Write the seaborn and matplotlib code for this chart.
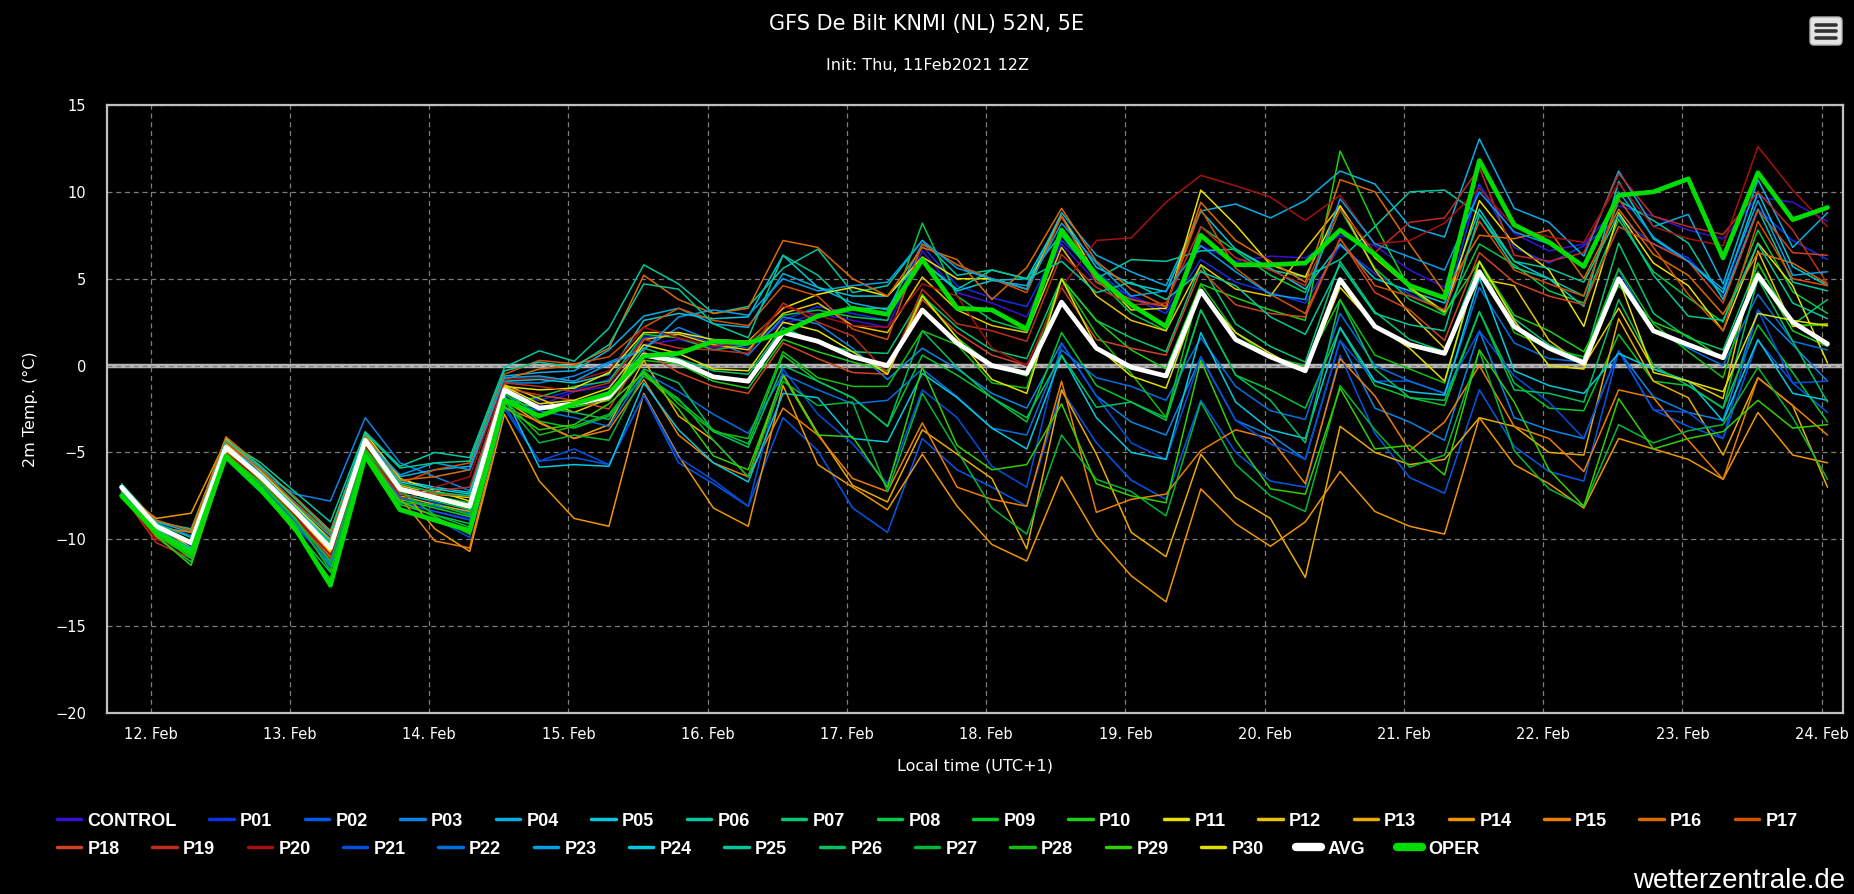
import matplotlib
matplotlib.use("Agg")
import matplotlib.pyplot as plt
import matplotlib.dates as mdates
from matplotlib import font_manager
from matplotlib.lines import Line2D
from matplotlib.patches import FancyBboxPatch
import pandas as pd
import seaborn as sns

# 6-hourly steps, local time (UTC+1)
times = pd.date_range("2021-02-11 19:00", periods=50, freq="6h")

control = [-7.2, -9.5, -10.6, -5.0, -6.9, -9.0, -11.6, -4.9, -7.8, -8.4, -8.8, -1.8, -2.3,
           -1.5, -1.2, 1.2, 1.5, 1.0, 1.2, 2.4, 3.0, 2.6, 2.2, 6.6, 4.2, 3.6, 2.8, 7.0, 4.8,
           4.0, 3.2, 6.9, 6.0, 6.3, 6.2, 7.5, 6.9, 5.5, 4.5, 10.4, 7.6, 6.6, 7.0, 9.2, 8.6,
           7.8, 7.3, 9.7, 9.4, 8.3]
p01 = [-7.0, -9.3, -10.4, -4.8, -6.6, -8.7, -10.9, -4.5, -7.3, -7.9, -8.5, -1.6, -2.0,
       -1.4, -0.8, 1.6, 1.9, 1.3, 1.0, 2.6, 3.4, 3.0, 2.6, 6.9, 4.6, 3.9, 3.4, 7.2, 5.4,
       3.9, 3.0, 6.1, 4.8, 4.2, 3.6, 6.9, 5.3, 4.1, 3.2, 10.45, 6.8, 5.9, 6.9, 8.5, 7.0,
       6.2, 4.0, 9.0, 7.2, 6.1]
p02 = [-7.3, -9.8, -11.0, -5.3, -7.0, -9.2, -11.4, -4.9, -7.9, -8.4, -8.9, -2.3, -5.5,
       -5.3, -5.7, -1.7, -5.6, -6.8, -8.1, -3.0, -4.9, -8.2, -9.6, -4.2, -6.0, -7.0, -8.1, -1.4, -4.45,
       -6.6, -7.7, -2.0, -5.0, -6.65, -7.0, 0.6, -3.9, -6.45, -7.35, -1.4, -4.65, -6.1, -6.65, 0.85, -2.55,
       -3.5, -4.2, 1.45, -1.0, -2.7]
p03 = [-6.9, -9.1, -9.8, -4.5, -6.2, -7.4, -7.8, -3.0, -5.6, -6.4, -7.2, -1.0, -1.0,
       -0.6, 0.2, 1.0, 2.2, 1.4, 0.6, 2.8, 2.4, 1.0, -0.8, 1.0, -0.2, -1.6, -2.45, 1.3, -1.75,
       -3.25, -4.0, 0.5, -3.15, -4.0, -5.4, 1.45, -2.45, -3.25, -4.3, 2.0, -3.0, -3.7, -4.2, 0.85, -1.8,
       -2.7, -3.15, 3.2, 1.2, -0.9]
p04 = [-6.9, -9.0, -9.6, -4.4, -5.9, -8.0, -9.8, -4.0, -6.4, -6.0, -5.8, -0.6, -0.4,
       -0.3, 0.9, 2.85, 3.3, 2.4, 2.2, 5.3, 4.5, 3.6, 3.2, 7.0, 5.8, 4.9, 4.6, 8.8, 6.35,
       5.4, 4.6, 8.9, 9.3, 8.5, 9.5, 11.2, 10.45, 8.0, 7.4, 13.05, 9.05, 8.25, 6.3, 11.2, 8.0,
       8.7, 4.7, 10.7, 6.8, 8.8]
p05 = [-7.1, -9.4, -10.3, -4.6, -6.0, -8.1, -10.2, -4.1, -6.6, -7.0, -7.3, -0.9, -0.8,
       -1.0, -0.5, 2.6, 3.0, 2.7, 2.8, 6.35, 4.5, 4.0, 4.0, 6.0, 4.3, 4.9, 5.0, 8.6, 5.65,
       4.7, 4.25, 8.9, 6.7, 5.6, 4.4, 7.0, 5.0, 4.3, 3.6, 9.0, 6.0, 5.0, 3.4, 10.6, 7.3,
       6.0, 4.2, 10.0, 5.7, 4.6]
p06 = [-6.8, -9.0, -9.4, -4.3, -5.6, -7.3, -9.0, -3.8, -5.8, -5.0, -5.3, -0.1, 0.85,
       0.25, 2.15, 5.8, 4.7, 3.0, 3.4, 5.6, 6.7, 4.2, 4.6, 7.2, 5.2, 5.5, 5.0, 7.6, 5.0,
       6.1, 6.0, 6.6, 6.7, 5.5, 5.1, 6.1, 8.0, 10.0, 10.1, 8.7, 5.65, 5.0, 4.0, 9.5, 8.35,
       7.05, 3.8, 9.0, 4.8, 4.3]
p07 = [-7.2, -9.5, -10.9, -5.0, -6.8, -8.8, -11.2, -4.6, -7.4, -7.8, -8.3, -1.5, -2.9,
       -2.3, -1.6, 1.0, 0.4, -0.3, -0.5, 2.2, 1.3, 0.8, 0.7, 4.0, 2.2, 0.9, 0.4, 5.0, 2.6,
       1.6, 0.8, 5.8, 2.4, 1.1, 0.2, 6.0, 3.1, 1.5, 0.8, 6.0, 2.7, 1.2, 0.3, 7.05, 3.0,
       1.6, 0.9, 5.9, 2.35, 3.8]
p08 = [-7.3, -9.9, -11.3, -5.4, -7.3, -9.5, -11.9, -5.0, -8.0, -8.6, -9.1, -2.2, -1.8,
       -1.2, -0.9, 1.8, 1.6, 0.9, 1.2, 2.9, 3.2, 2.8, 2.6, 8.2, 4.0, 2.6, 2.0, 7.5, 5.0,
       3.0, 2.0, 8.0, 6.6, 5.2, 4.2, 9.0, 5.6, 3.8, 2.9, 7.0, 5.8, 4.3, 3.6, 8.4, 5.4,
       3.9, 2.5, 7.8, 4.25, 3.0]
p09 = [-7.1, -9.6, -10.6, -4.9, -6.7, -8.6, -10.8, -4.4, -7.2, -7.5, -7.9, -1.6, -3.2,
       -3.6, -2.9, -0.6, -2.0, -3.7, -4.5, 0.6, -0.9, -1.85, -3.5, 0.6, -0.55, -1.85, -3.25, 1.9, -1.15,
       -2.1, -3.0, 3.2, -0.55, -1.4, -2.45, 2.15, -1.15, -1.85, -2.3, 3.1, -1.0, -2.45, -2.6, 1.8, -0.9,
       -1.15, -2.45, 2.35, -0.4, -3.25]
p10 = [-7.4, -9.8, -11.0, -5.1, -7.0, -9.1, -11.5, -4.8, -7.7, -8.2, -8.7, -1.9, -2.5,
       -2.4, -2.0, 0.3, 0.1, -0.9, -1.3, 1.5, 0.8, 0.2, -0.3, 4.1, 1.6, 0.0, -0.6, 5.0, 2.6,
       0.9, -0.2, 4.7, 3.9, 3.2, 2.6, 12.35, 8.1, 4.4, 3.0, 6.0, 2.9, 2.0, 0.8, 4.6, 2.5,
       1.7, 0.4, 5.4, 2.0, 1.1]
p11 = [-6.9, -9.2, -10.1, -4.2, -6.1, -8.1, -10.0, -3.9, -6.5, -7.2, -7.8, -1.2, -1.4,
       -1.3, -0.4, 1.9, 1.9, 1.5, 1.4, 3.3, 4.1, 4.5, 4.0, 6.25, 5.0, 5.0, 4.4, 8.6, 5.2,
       3.2, 3.3, 10.1, 8.1, 5.8, 5.1, 9.2, 6.2, 4.5, 3.1, 9.5, 7.0, 5.5, 2.25, 8.8, 5.9,
       4.6, 2.0, 7.05, 4.6, 0.15]
p12 = [-7.0, -9.2, -10.5, -4.5, -6.3, -8.3, -10.3, -4.2, -6.9, -7.4, -7.6, -1.1, -1.9,
       -2.7, -1.9, 1.5, 1.8, 1.2, 0.9, 3.0, 3.6, 2.3, 1.9, 5.1, 3.2, 2.3, 1.9, 6.8, 4.0,
       2.6, 2.0, 5.8, 4.4, 4.0, 6.7, 9.2, 5.5, 3.0, 1.0, 5.0, 4.6, 1.45, 0.0, 3.3, -0.2,
       -0.9, -1.9, 6.6, 2.25, 2.4]
p13 = [-7.2, -9.7, -10.8, -4.7, -6.6, -8.9, -11.0, -4.6, -7.5, -8.0, -8.4, -2.0, -3.3,
       -4.2, -3.4, 0.3, -2.9, -4.3, -6.4, -0.5, -3.9, -6.9, -7.85, -3.7, -5.1, -6.5, -10.55, -1.4, -5.1,
       -9.6, -11.0, -5.1, -7.6, -8.8, -12.2, -3.5, -5.0, -5.7, -5.4, -3.0, -3.5, -5.0, -5.15, 2.7, -0.9,
       -1.85, -5.15, -0.7, -2.3, -7.0]
p14 = [-7.3, -8.8, -8.5, -4.3, -6.5, -8.6, -10.8, -4.5, -7.0, -9.4, -10.7, -2.8, -6.65,
       -8.8, -9.25, -1.6, -5.2, -8.2, -9.25, -1.15, -5.7, -7.0, -8.3, -5.1, -8.1, -10.3, -11.25, -6.4, -9.8,
       -12.1, -13.6, -7.1, -9.1, -10.4, -9.0, -6.1, -8.4, -9.25, -9.7, -3.0, -5.7, -6.8, -8.2, -4.2, -4.8,
       -5.4, -6.55, -2.7, -5.15, -5.6]
p15 = [-7.1, -9.3, -9.6, -4.6, -6.8, -8.5, -10.0, -4.4, -7.6, -10.1, -10.5, -2.4, -3.25,
       -4.2, -3.7, -0.8, -4.0, -5.6, -6.4, -2.45, -4.0, -6.5, -7.25, -3.3, -7.0, -7.7, -8.1, -0.9, -8.45,
       -7.7, -7.4, -4.9, -3.7, -4.2, -6.8, 0.4, -1.75, -4.9, -3.25, 0.0, -3.5, -4.2, -6.1, -1.4, -1.85,
       -4.3, -6.55, -0.7, -2.3, -4.0]
p16 = [-7.0, -8.9, -9.5, -4.1, -5.8, -7.6, -9.5, -4.0, -6.6, -6.4, -6.0, -0.8, -0.2,
       0.0, 1.0, 5.2, 3.8, 3.0, 3.3, 7.2, 6.8, 5.0, 4.0, 6.8, 6.1, 3.8, 5.65, 9.05, 6.0,
       4.4, 3.4, 9.4, 7.2, 6.0, 4.8, 10.7, 10.0, 7.0, 4.2, 7.5, 7.3, 7.8, 5.0, 9.0, 6.4,
       5.2, 2.95, 6.5, 5.9, 4.7]
p17 = [-7.1, -9.4, -10.3, -4.4, -6.0, -7.9, -9.7, -4.2, -6.8, -6.0, -5.6, -0.5, 0.3,
       0.1, 0.5, 2.2, 3.3, 2.6, 2.3, 4.6, 4.0, 2.1, 1.5, 7.0, 5.8, 5.0, 4.2, 8.6, 4.8,
       3.8, 3.4, 9.0, 5.6, 4.1, 3.0, 7.3, 4.6, 4.0, 3.2, 8.3, 5.5, 4.7, 4.0, 9.6, 6.8,
       4.1, 2.0, 8.3, 5.0, 4.6]
p18 = [-7.2, -9.9, -10.9, -4.8, -6.5, -8.6, -10.6, -4.4, -7.3, -7.4, -7.5, -1.3, -1.7,
       -2.0, -2.5, 0.8, -0.4, -1.2, -1.6, 1.3, 0.4, -0.4, -0.5, 3.8, 1.9, 0.6, 0.0, 4.5, 1.5,
       1.0, 0.6, 5.5, 3.5, 3.0, 2.8, 7.3, 4.2, 3.2, 1.45, 6.5, 4.8, 4.0, 3.5, 8.0, 7.0,
       6.0, 3.6, 8.95, 6.5, 6.35]
p19 = [-7.4, -10.2, -11.1, -5.0, -6.9, -8.8, -11.1, -4.7, -7.7, -7.2, -7.0, -1.0, -1.2,
       -1.5, -1.0, 1.5, 1.0, 0.9, 0.7, 3.6, 2.5, 1.7, -0.45, 4.4, 2.4, 2.0, 1.4, 6.4, 4.5,
       3.5, 3.6, 8.0, 6.2, 5.5, 4.6, 9.0, 6.5, 8.25, 8.5, 11.4, 6.35, 6.0, 6.5, 11.05, 8.6,
       8.0, 7.55, 10.0, 7.8, 4.7]
p20 = [-7.3, -10.0, -10.7, -4.9, -6.7, -8.7, -10.9, -4.6, -7.5, -7.0, -6.4, -0.8, -0.7,
       -0.9, -0.3, 2.2, 1.6, 1.1, 1.3, 3.4, 2.9, 2.3, 2.2, 4.7, 4.0, 1.0, 0.0, 4.5, 7.2,
       7.35, 9.4, 10.95, 10.35, 9.7, 8.35, 9.8, 7.0, 7.2, 8.2, 10.2, 8.0, 7.4, 7.1, 10.5, 8.0,
       7.3, 6.9, 12.6, 10.1, 8.0]
p21 = [-7.2, -9.6, -10.7, -5.2, -7.2, -9.3, -11.3, -5.1, -8.2, -8.8, -9.9, -2.5, -5.5,
       -4.8, -5.7, -1.7, -5.3, -6.6, -8.1, -0.2, -2.8, -4.5, -6.8, -1.4, -3.0, -5.8, -7.0, 1.3, -1.75,
       -4.45, -5.4, 0.5, -3.15, -4.5, -5.4, 1.45, -0.9, -0.9, -1.6, 2.0, -0.6, -2.1, -4.2, 0.85, -2.55,
       -2.7, -4.2, 3.2, -1.0, -0.9]
p22 = [-7.3, -9.7, -10.9, -5.3, -6.9, -9.0, -11.6, -5.2, -7.6, -8.1, -8.5, -2.1, -2.6,
       -3.0, -3.5, -0.4, -1.5, -2.8, -3.9, -0.5, -1.4, -2.2, -2.0, -0.2, -1.8, -3.6, -4.0, 0.9, -0.7,
       -1.2, -2.0, 1.6, -1.2, -2.6, -3.1, 3.0, 0.0, -0.9, -1.6, 4.5, 1.3, 0.4, 0.2, 5.5, 2.0,
       1.0, 0.0, 4.1, 1.4, 0.9]
p23 = [-7.0, -9.3, -10.1, -4.6, -6.2, -8.2, -10.4, -4.3, -6.3, -5.6, -6.0, -0.7, -0.6,
       -0.9, 0.1, 0.9, 2.8, 3.2, 2.9, 5.0, 4.3, 4.6, 4.8, 7.2, 5.6, 5.0, 4.4, 8.2, 5.9,
       4.0, 4.3, 6.9, 5.4, 4.1, 3.8, 9.6, 7.0, 6.25, 5.5, 10.0, 7.7, 7.0, 5.7, 10.0, 7.4,
       6.0, 4.4, 9.5, 5.2, 5.4]
p24 = [-7.1, -9.4, -10.6, -4.8, -6.3, -8.3, -10.1, -4.3, -6.7, -7.1, -7.4, -1.7, -5.85,
       -5.7, -5.8, -1.0, -3.7, -5.6, -6.7, -1.6, -1.85, -4.2, -4.4, -0.45, -1.85, -3.6, -4.8, 0.6, -3.0,
       -5.0, -5.4, 1.9, -2.1, -3.7, -4.2, 2.2, -0.9, -1.5, -1.7, 5.05, -0.3, -1.15, -1.6, 0.7, -0.2,
       -0.9, -3.2, 1.5, -1.6, -2.0]
p25 = [-6.9, -9.1, -9.9, -4.3, -5.8, -7.7, -9.6, -3.9, -5.9, -5.6, -5.5, -0.3, 0.2,
       -0.1, 1.2, 4.7, 4.4, 2.4, 1.6, 6.35, 5.2, 3.3, 3.3, 6.0, 4.4, 5.5, 5.0, 6.0, 4.2,
       4.8, 3.8, 5.4, 4.6, 2.8, 1.8, 5.8, 3.0, 2.35, 2.0, 8.7, 6.0, 5.6, 4.8, 8.7, 5.2,
       2.85, 2.6, 7.0, 3.6, 2.7]
p26 = [-7.2, -9.5, -10.5, -4.8, -6.4, -8.4, -10.2, -4.3, -6.8, -7.3, -7.5, -1.5, -2.4,
       -2.7, -3.1, -0.2, -1.0, -3.8, -4.7, 0.0, -0.9, -1.85, -3.5, 2.0, -0.1, -1.85, -3.0, 0.6, -2.4,
       -2.1, -3.15, 3.2, -0.55, -2.0, -4.45, 3.8, -0.2, -1.85, -2.0, 3.1, -1.4, -1.6, -2.1, 3.8, 0.0,
       -1.15, -2.45, 5.0, 1.4, -2.1]
p27 = [-7.3, -9.8, -10.9, -5.2, -6.8, -8.9, -11.3, -4.8, -7.2, -8.6, -9.3, -2.1, -4.45,
       -4.0, -4.3, -0.5, -1.9, -4.3, -6.4, -0.9, -2.3, -2.1, -7.25, -1.6, -4.9, -8.2, -9.7, -4.0, -6.55,
       -7.25, -8.65, -2.1, -5.7, -7.5, -8.4, -1.15, -3.7, -5.85, -5.15, 0.85, -4.9, -7.1, -8.1, -3.4, -4.45,
       -3.75, -3.4, -0.1, -3.0, -6.55]
p28 = [-7.4, -9.7, -11.1, -5.2, -6.7, -8.8, -11.8, -4.9, -7.9, -8.0, -8.6, -2.0, -4.0,
       -3.5, -2.8, -0.3, -2.2, -3.8, -4.2, 0.8, -0.7, -1.2, -1.2, 2.0, 1.2, -1.0, -1.3, 5.0, 1.8,
       -0.45, -3.0, 4.7, 1.9, 0.5, 0.0, 3.8, 0.6, -0.2, -1.0, 6.0, 1.9, 1.0, 0.5, 5.6, 2.4,
       0.8, -0.7, 5.9, 2.35, 2.3]
p29 = [-7.5, -9.8, -11.5, -5.3, -7.2, -9.6, -12.3, -5.1, -7.8, -8.7, -9.7, -2.4, -3.7,
       -3.4, -2.2, -0.4, -2.5, -5.2, -6.0, -0.6, -4.0, -4.1, -7.0, -0.1, -4.6, -6.0, -5.7, -2.2, -6.8,
       -7.5, -7.9, 0.3, -4.3, -7.1, -7.4, -1.3, -4.8, -4.6, -6.3, 0.9, -2.1, -6.0, -8.1, -1.9, -4.8,
       -4.2, -3.8, -2.0, -3.6, -3.4]
p30 = [-7.0, -9.5, -10.7, -4.9, -6.4, -8.5, -10.7, -4.5, -7.2, -7.7, -8.2, -1.2, -2.2,
       -2.0, -1.3, 1.2, 0.7, -0.2, -0.3, 2.5, 2.0, 0.8, -0.5, 4.0, 1.6, -0.8, -1.6, 5.0, 1.1,
       -0.6, -1.3, 4.2, 1.9, 0.7, -0.4, 4.5, 2.3, 1.0, -0.9, 6.0, 2.6, 0.0, -0.2, 5.0, -0.4,
       -0.9, -1.5, 3.0, 2.6, 2.3]

avg = [-7.0, -9.25, -10.2, -4.7, -6.4, -8.4, -10.5, -4.3, -7.1, -7.6, -8.1, -1.4, -2.45,
       -2.2, -1.8, 0.6, 0.25, -0.65, -0.9, 1.9, 1.4, 0.5, 0.0, 3.2, 1.3, 0.0, -0.45, 3.65, 1.0,
       -0.1, -0.6, 4.3, 1.5, 0.5, -0.3, 4.95, 2.25, 1.2, 0.7, 5.4, 2.25, 1.0, 0.15, 5.0, 2.0,
       1.2, 0.45, 5.2, 2.5, 1.25]
oper = [-7.5, -9.6, -10.8, -5.2, -7.1, -9.4, -12.65, -5.2, -8.3, -8.9, -9.5, -2.0, -2.9,
        -2.2, -1.6, 0.55, 0.7, 1.4, 1.3, 1.9, 2.85, 3.3, 2.95, 6.1, 3.3, 3.2, 2.1, 7.8, 5.2,
        3.5, 2.25, 7.5, 5.8, 5.8, 5.9, 7.8, 6.4, 4.6, 3.9, 11.8, 8.1, 7.1, 5.7, 9.8, 10.0,
        10.75, 6.2, 11.1, 8.4, 9.1]

member_names = ["CONTROL"] + [f"P{i:02d}" for i in range(1, 31)]
member_values = [control, p01, p02, p03, p04, p05, p06, p07, p08, p09, p10,
                 p11, p12, p13, p14, p15, p16, p17, p18, p19, p20,
                 p21, p22, p23, p24, p25, p26, p27, p28, p29, p30]
member_colors = ["#3a10d8", "#1030e8", "#0058e8", "#0a84e6", "#08aee6", "#00c8d8",
                 "#00c8a0", "#00c870", "#00c848", "#00c828", "#18d018",
                 "#e8e000", "#e8c400", "#eaaa00", "#ee9600", "#ee7e00", "#dc6a00",
                 "#d25200", "#d04420", "#c02c20", "#a81010",
                 "#0050e0", "#0070e0", "#00a0e8", "#00c8e0", "#00c898", "#00c060",
                 "#00b838", "#10c010", "#30d000", "#e0e000"]
avg_color = "#ffffff"
oper_color = "#00dd00"

# long table for seaborn
rows = []
for name, vals in zip(member_names, member_values):
    for t, v in zip(times, vals):
        rows.append((name, t, v))
df = pd.DataFrame(rows, columns=["member", "time", "temp"])

sns.set_theme(style="dark")
installed = {f.name for f in font_manager.fontManager.ttflist}
narrow = next((f for f in ["Liberation Sans Narrow", "DejaVu Sans Condensed", "Liberation Sans"]
               if f in installed), "DejaVu Sans")
plt.rcParams["font.family"] = ["DejaVu Sans"]

W, H = 1854, 894
fig = plt.figure(figsize=(W / 100, H / 100), dpi=100, facecolor="black")
ax = fig.add_axes([107 / W, 1 - 713 / H, 1736 / W, 608 / H])
ax.set_facecolor("black")

sns.lineplot(data=df, x="time", y="temp", hue="member", hue_order=member_names,
             palette=dict(zip(member_names, member_colors)), linewidth=1.1,
             estimator=None, errorbar=None, legend=False, ax=ax, zorder=3)
sns.lineplot(x=times, y=avg, color=avg_color, linewidth=3.4, ax=ax, zorder=4)
sns.lineplot(x=times, y=oper, color=oper_color, linewidth=3.4, ax=ax, zorder=5)

# zero line: grey band under the dashed grid line
ax.axhline(0, color="#b4b4b4", linewidth=3.2, zorder=0.4)

ax.set_ylim(-20, 15)
ax.set_yticks(range(-20, 16, 5))
ax.set_xlim(pd.Timestamp("2021-02-11 16:30"), pd.Timestamp("2021-02-24 03:40"))
ax.xaxis.set_major_locator(mdates.DayLocator())
ax.xaxis.set_major_formatter(mdates.DateFormatter("%d. %b"))
ax.set_axisbelow(True)
ax.grid(True, color="#7c7c7c", linestyle=(0, (4, 3)), linewidth=0.9)
for s in ax.spines.values():
    s.set_color("#c0c0c0")
    s.set_linewidth(1.6)
ax.tick_params(axis="x", colors="white", labelsize=10.5, length=8, width=1.2,
               color="#c0c0c0", pad=2)
ax.tick_params(axis="y", colors="white", labelsize=10.5, length=0, pad=15)
ax.set_xlabel("")
ax.set_ylabel("")

fig.text(0.5, 1 - 24 / H, "GFS De Bilt KNMI (NL) 52N, 5E", color="white",
         fontsize=15, ha="center", va="center")
fig.text(0.5, 1 - 65 / H, "Init: Thu, 11Feb2021 12Z", color="white",
         fontsize=11.5, ha="center", va="center")
fig.text(30 / W, 1 - 409 / H, "2m Temp. (°C)", color="white", fontsize=11.5,
         rotation=90, ha="center", va="center")
fig.text(0.5 * (107 + 1843) / W, 1 - 766 / H, "Local time (UTC+1)", color="white",
         fontsize=11.5, ha="center", va="center")
fig.text(1845 / W, 1 - 881 / H, "wetterzentrale.de", color="white",
         fontsize=20, ha="right", va="center", family=narrow)

# legend in two flowing rows
handles = [Line2D([], [], color=c, linewidth=2.5) for c in member_colors]
handles += [Line2D([], [], color=avg_color, linewidth=6),
            Line2D([], [], color=oper_color, linewidth=6)]
labels = member_names + ["AVG", "OPER"]
leg_font = dict(family=narrow, weight="bold", size=13)
for first, last, ycen in [(0, 18, 821), (18, 33, 849)]:
    lg = fig.legend(handles[first:last], labels[first:last], ncol=last - first,
                    loc="center left", bbox_to_anchor=(57 / W, 1 - ycen / H),
                    frameon=False, prop=leg_font, labelcolor="white",
                    handlelength=1.35, handletextpad=0.35, columnspacing=1.8,
                    borderpad=0, borderaxespad=0)

# menu button
iax = fig.add_axes([1809 / W, 1 - 46 / H, 34 / W, 30 / H])
iax.set_xlim(0, 34)
iax.set_ylim(0, 30)
iax.axis("off")
iax.add_patch(FancyBboxPatch((1, 1), 32, 28, boxstyle="round,pad=0,rounding_size=4",
                             facecolor="#e4e4e4", edgecolor="#b0b0b0", linewidth=1))
for yy in (8.5, 15, 21.5):
    iax.plot([7, 27], [yy, yy], color="#333333", linewidth=2.6, solid_capstyle="round")

fig.savefig("out.png", dpi=100, facecolor="black")
